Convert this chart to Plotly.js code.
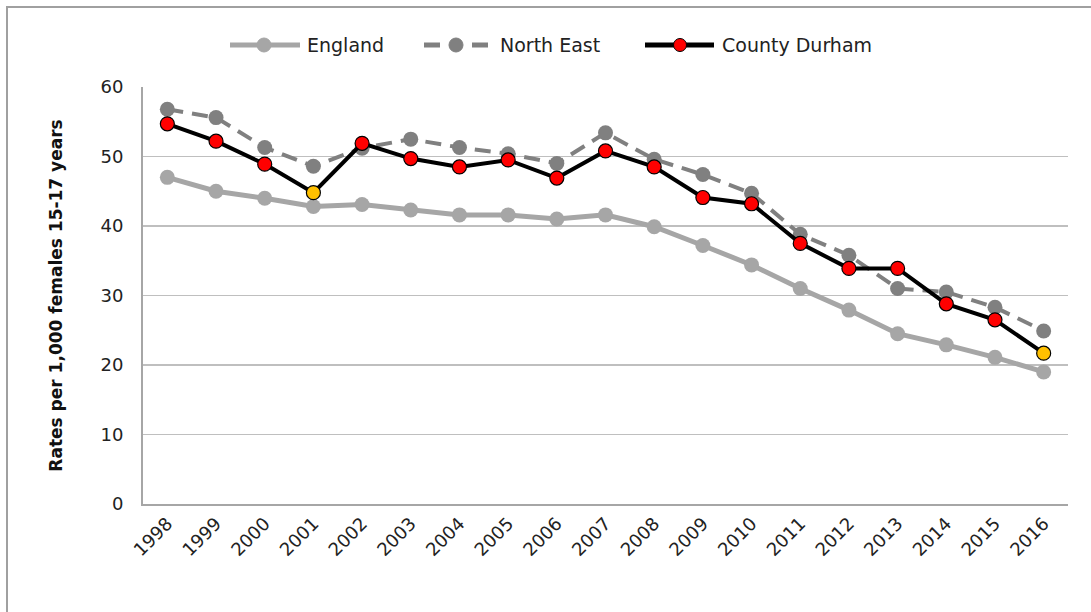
<!DOCTYPE html>
<html>
<head>
<meta charset="utf-8">
<script src="https://cdn.plot.ly/plotly-3.0.1.min.js"></script>
<style>
  html, body { margin: 0; padding: 0; background: #fff; overflow: hidden; }
  #wrap { position: relative; width: 1091px; height: 612px; overflow: hidden; }
  #frame { position: absolute; left: 6px; top: 6px; width: 1100px; height: 620px; border: 2px solid #a0a0a0; box-sizing: border-box; pointer-events: none; }
  #chart { position: absolute; left: 0; top: 0; width: 1091px; height: 612px; }
</style>
</head>
<body>
<div id="wrap">
  <div id="chart"></div>
  <div id="frame"></div>
</div>
<script>
const years = ["1998","1999","2000","2001","2002","2003","2004","2005","2006","2007","2008","2009","2010","2011","2012","2013","2014","2015","2016"];
const england = [47.0, 45.0, 44.0, 42.8, 43.1, 42.3, 41.6, 41.6, 41.0, 41.6, 39.9, 37.2, 34.4, 31.0, 27.9, 24.5, 22.9, 21.1, 19.0];
const northEast = [56.8, 55.6, 51.3, 48.6, 51.2, 52.5, 51.3, 50.4, 49.0, 53.4, 49.6, 47.4, 44.7, 38.8, 35.8, 31.0, 30.5, 28.3, 24.9];
const countyDurham = [54.7, 52.2, 48.9, 44.8, 51.9, 49.7, 48.5, 49.5, 46.9, 50.8, 48.5, 44.1, 43.2, 37.5, 33.9, 33.9, 28.8, 26.5, 21.7];
const highlightYears = ["2001", "2016"];
const yTicks = [0, 10, 20, 30, 40, 50, 60];
const seriesNames = ["England", "North East", "County Durham"];

const cdColors = years.map(y => highlightYears.includes(y) ? "#ffc000" : "#ff0000");

const styles = [
  { line: { color: "#a6a6a6", width: 5, dash: "solid" }, marker: { color: "#a6a6a6", size: 15, line: { width: 0 } } },
  { line: { color: "#808080", width: 4, dash: "16px,9px" }, marker: { color: "#808080", size: 15, line: { width: 0 } } },
  { line: { color: "#000000", width: 4, dash: "solid" }, marker: { color: cdColors, size: 14, line: { color: "#000000", width: 1.2 } } }
];
const values = [england, northEast, countyDurham];

const traces = values.map((v, i) => ({
  x: years, y: v, name: seriesNames[i], type: "scatter", mode: "lines+markers",
  line: styles[i].line, marker: styles[i].marker, showlegend: false
}));

// Custom legend (longer sample lines, like the original)
const L = 143, R = 1091 - 23, T = 87, B = 504;
const px = x => (x - L) / (R - L);
const py = y => (B - y) / (B - T);
const legendItems = [
  { x0: 230, x1: 300, mx: 264, tx: 305, dash: "solid", w: 5, color: "#a6a6a6", mcolor: "#a6a6a6", mline: "#a6a6a6", r: 7 },
  { x0: 424, x1: 488, mx: 456, tx: 498, dash: "16px,32px", w: 5, color: "#808080", mcolor: "#808080", mline: "#808080", r: 7 },
  { x0: 645, x1: 714, mx: 680, tx: 720, dash: "solid", w: 5, color: "#000000", mcolor: "#ff0000", mline: "#000000", r: 6.5 }
];
const legY = 45;
const shapes = [];
const annotations = [];
legendItems.forEach((it, i) => {
  shapes.push({ type: "line", xref: "paper", yref: "paper", x0: px(it.x0), x1: px(it.x1), y0: py(legY), y1: py(legY),
    line: { color: it.color, width: it.w, dash: it.dash } });
  shapes.push({ type: "circle", xref: "paper", yref: "paper", x0: px(it.mx - it.r), x1: px(it.mx + it.r), y0: py(legY - it.r), y1: py(legY + it.r),
    fillcolor: it.mcolor, line: { color: it.mline, width: 1 } });
  annotations.push({ xref: "paper", yref: "paper", x: px(it.tx), y: py(legY), xanchor: "left", yanchor: "middle", showarrow: false,
    text: seriesNames[i], font: { size: 19, family: "DejaVu Sans, Verdana, sans-serif", color: "#222" } });
});

const layout = {
  width: 1091, height: 612,
  margin: { l: L, r: 1091 - R, t: T, b: 612 - B },
  paper_bgcolor: "#ffffff", plot_bgcolor: "#ffffff",
  font: { family: "DejaVu Sans, Verdana, sans-serif", color: "#222" },
  showlegend: false,
  shapes: shapes,
  annotations: annotations,
  xaxis: {
    type: "category", range: [-0.5, years.length - 0.5], tickangle: -45,
    tickfont: { size: 18, color: "#222" },
    showgrid: false, showline: true, linecolor: "#a6a6a6", linewidth: 2,
    ticks: "", zeroline: false, fixedrange: true
  },
  yaxis: {
    range: [0, 60], tickvals: yTicks, ticktext: yTicks.map(String),
    tickfont: { size: 18, color: "#222" }, ticklabelstandoff: 14,
    showgrid: true, gridcolor: "#bfbfbf", gridwidth: 1.5,
    showline: true, linecolor: "#a6a6a6", linewidth: 2,
    zeroline: false, ticks: "",
    title: { text: "Rates per 1,000 females 15-17 years", font: { size: 17, family: "DejaVu Sans, Verdana, sans-serif", weight: "bold", color: "#111" }, standoff: 34 },
    fixedrange: true
  }
};

Plotly.newPlot("chart", traces, layout, { displayModeBar: false, staticPlot: true });
</script>
</body>
</html>
